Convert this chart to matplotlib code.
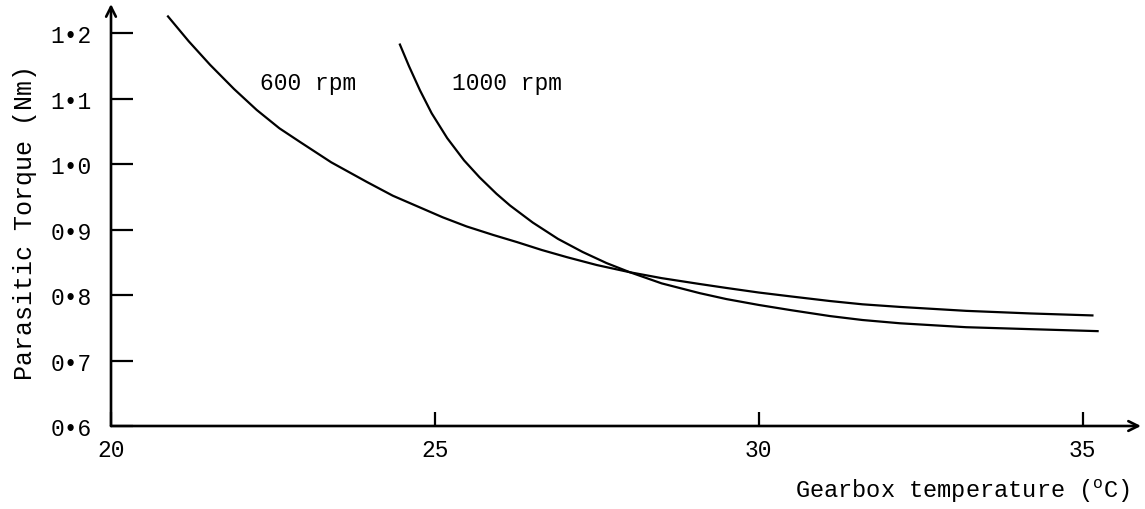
import matplotlib
matplotlib.use('Agg')
import matplotlib.pyplot as plt

plt.rcParams['font.family'] = ['Liberation Mono', 'DejaVu Sans Mono']
plt.rcParams['mathtext.fontset'] = 'custom'
plt.rcParams['mathtext.rm'] = 'Liberation Mono'

# values
temp_600 = [20.88, 21.2, 21.53, 21.9, 22.25, 22.6, 22.92, 23.4, 23.95, 24.35,
            24.77, 25.12, 25.49, 25.9, 26.27, 26.65, 27.04, 27.5, 28.01, 28.5,
            29.09, 29.5, 30.0, 30.5, 31.1, 31.6, 32.18, 33.2, 34.2, 35.15]
torque_600 = [1.226, 1.188, 1.152, 1.115, 1.083, 1.055, 1.034, 1.003, 0.973,
              0.952, 0.934, 0.919, 0.905, 0.892, 0.881, 0.869, 0.858, 0.846,
              0.835, 0.826, 0.817, 0.811, 0.804, 0.798, 0.791, 0.786, 0.782,
              0.776, 0.772, 0.769]

temp_1000 = [24.46, 24.6, 24.77, 24.95, 25.19, 25.45, 25.69, 25.95, 26.16,
             26.51, 26.9, 27.28, 27.65, 28.01, 28.5, 29.09, 29.5, 30.0, 30.5,
             31.1, 31.6, 32.18, 33.2, 34.2, 35.23]
torque_1000 = [1.183, 1.150, 1.113, 1.078, 1.040, 1.006, 0.980, 0.955, 0.937,
               0.911, 0.886, 0.866, 0.849, 0.835, 0.818, 0.803, 0.794, 0.785,
               0.777, 0.768, 0.762, 0.757, 0.751, 0.748, 0.745]

x_ticks = [20, 25, 30, 35]
y_ticks = [0.6, 0.7, 0.8, 0.9, 1.0, 1.1, 1.2]
y_tick_labels = ['0\u20226', '0\u20227', '0\u20228', '0\u20229',
                 '1\u20220', '1\u20221', '1\u20222']

fig = plt.figure(figsize=(11.45, 5.1), dpi=100)
ax = fig.add_axes([111 / 1145, 83 / 510, 1030 / 1145, 422 / 510])

ax.plot(temp_600, torque_600, color='black', lw=1.6)
ax.plot(temp_1000, torque_1000, color='black', lw=1.6)

ax.text(22.3, 1.125, '600 rpm', fontsize=16.5, va='center', ha='left')
ax.text(25.26, 1.125, '1000 rpm', fontsize=16.5, va='center', ha='left')

ax.set_xlim(20, 35.9)
ax.set_ylim(0.6, 1.245)

for s in ax.spines.values():
    s.set_visible(False)

# axes drawn as arrows
ax.annotate('', xy=(1.0, 0), xytext=(0, 0), xycoords='axes fraction',
            arrowprops=dict(arrowstyle='->,head_length=0.7,head_width=0.35',
                            lw=1.9, color='black', shrinkA=0, shrinkB=0))
ax.annotate('', xy=(0, 1.0), xytext=(0, 0), xycoords='axes fraction',
            arrowprops=dict(arrowstyle='->,head_length=0.7,head_width=0.35',
                            lw=1.9, color='black', shrinkA=0, shrinkB=0))

ax.set_xticks(x_ticks)
ax.set_xticklabels([str(t) for t in x_ticks])
ax.set_yticks(y_ticks)
ax.set_yticklabels(y_tick_labels)
ax.tick_params(axis='y', direction='in', length=16, width=1.6, pad=14,
               labelsize=16.5)
ax.tick_params(axis='x', direction='in', length=10, width=1.6, pad=9,
               labelsize=16.5)

fig.text(25 / 1145, 1 - 222 / 510, 'Parasitic Torque (Nm)', rotation=90,
         ha='center', va='center', fontsize=18)
fig.text(1130 / 1145, 1 - 491 / 510, 'Gearbox temperature ($^{\\mathrm{o}}$C)',
         ha='right', va='center', fontsize=17)

fig.savefig('out.png', dpi=100)
